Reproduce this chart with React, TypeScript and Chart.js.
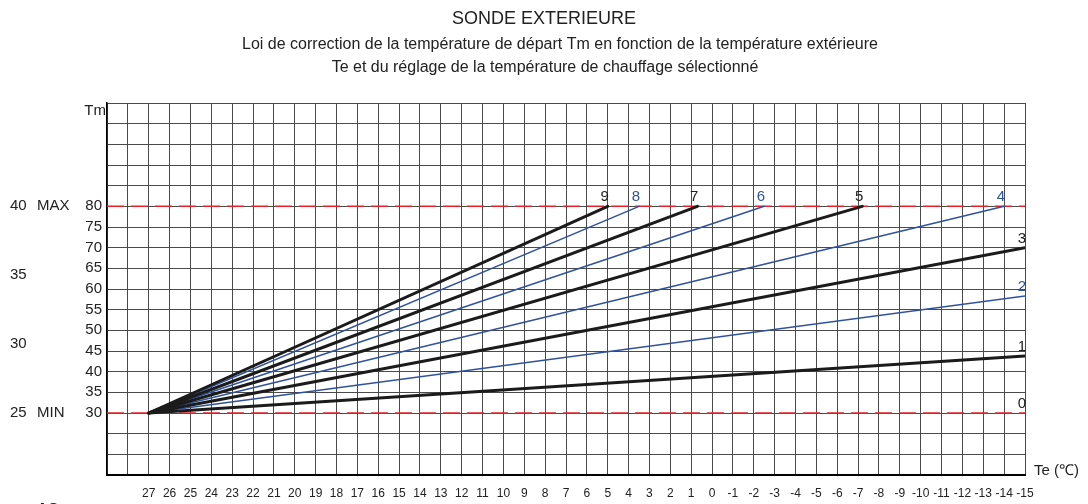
import React, { useEffect, useRef } from 'react';
import { Chart, registerables } from 'chart.js';

Chart.register(...registerables);

const FONT = "'Liberation Sans', Arial, Helvetica, sans-serif";

const TITLE = 'SONDE EXTERIEURE';
const SUBTITLE_LINES = [
  'Loi de correction de la température de départ Tm en fonction de la température extérieure',
  'Te et du réglage de la température de chauffage sélectionné',
];

// Axis ranges / tick labels
const TE_MIN = -15;
const TE_MAX = 29;
const TE_FIRST_LABEL = 27;
const TM_MIN = 15;
const TM_MAX = 105;
const TM_LABEL_LOW = 30;
const TM_LABEL_HIGH = 80;

// Curves: all start at (27, 30)
const curveNames = ['0', '1', '2', '3', '4', '5', '6', '7', '8', '9'];
const curveStartTe = 27;
const curveStartTm = 30;
const curveEndTe = [-15, -15, -15, -15, -14, -7.2, -2.5, 0.7, 3.5, 5];
const curveEndTm = [30, 43.8, 58.3, 70, 80, 80, 80, 80, 80, 80];
const curveKinds = ['none', 'black', 'blue', 'black', 'blue', 'black', 'blue', 'black', 'blue', 'black'];

// Red dashed limits (MIN / MAX)
const limitTm = [30, 80];

// Outer scale on the left (room temperature setting)
const outerValues = [25, 30, 35, 40];
const outerWords = ['MIN', '', '', 'MAX'];
const outerLowTm = 30;
const outerHighTm = 80;

const BLACK = '#1b1b1b';
const BLUE = '#2f52a0';
const RED = '#e8202a';
const TEXT = '#222222';

const overlayPlugin = {
  id: 'overlay',
  afterDraw(chart: any) {
    const ctx = chart.ctx as CanvasRenderingContext2D;
    const xs = chart.scales.x;
    const ys = chart.scales.y;
    ctx.save();
    ctx.fillStyle = TEXT;
    ctx.textAlign = 'center';
    ctx.textBaseline = 'middle';
    ctx.font = `18px ${FONT}`;
    ctx.fillText(TITLE, 544, 19);
    ctx.font = `16px ${FONT}`;
    ctx.fillText(SUBTITLE_LINES[0], 560, 45);
    ctx.fillText(SUBTITLE_LINES[1], 545, 68);

    // Axis names
    ctx.font = `15px ${FONT}`;
    ctx.textAlign = 'right';
    ctx.fillText('Tm', xs.left - 1, 111);
    ctx.textAlign = 'left';
    ctx.fillText('Te (\u2103)', xs.right + 9, ys.bottom - 4);

    // Outer labels
    const lo = outerValues[0];
    const hi = outerValues[outerValues.length - 1];
    outerValues.forEach((v, i) => {
      const tm = outerLowTm + ((v - lo) * (outerHighTm - outerLowTm)) / (hi - lo);
      const py = ys.getPixelForValue(tm);
      ctx.textAlign = 'left';
      ctx.fillText(String(v), 10, py);
      if (outerWords[i]) ctx.fillText(outerWords[i], 37, py);
    });

    // Curve labels
    curveNames.forEach((name, i) => {
      const px = xs.getPixelForValue(curveEndTe[i]);
      const py = ys.getPixelForValue(curveEndTm[i]);
      ctx.fillStyle = curveKinds[i] === 'blue' ? BLUE : TEXT;
      ctx.textAlign = 'right';
      ctx.textBaseline = 'alphabetic';
      ctx.fillText(name, px + 1, py - 5);
    });

    // cut-off text at the bottom-left corner
    ctx.fillStyle = TEXT;
    ctx.textAlign = 'left';
    ctx.textBaseline = 'top';
    ctx.font = `bold 15px ${FONT}`;
    ctx.fillText('AC', 37, 501);
    ctx.restore();
  },
};

export default function App() {
  const ref = useRef<HTMLCanvasElement>(null);

  useEffect(() => {
    if (!ref.current) return;
    document.body.style.margin = '0';

    const datasets: any[] = [];
    limitTm.forEach((tm) => {
      datasets.push({
        data: [
          { x: TE_MAX, y: tm },
          { x: TE_MIN, y: tm },
        ],
        borderColor: RED,
        borderWidth: 1.5,
        borderDash: [17, 7],
        pointRadius: 0,
        order: 100,
      });
    });
    curveNames.forEach((_, i) => {
      if (curveKinds[i] === 'none') return;
      const black = curveKinds[i] === 'black';
      datasets.push({
        data: [
          { x: curveStartTe, y: curveStartTm },
          { x: curveEndTe[i], y: curveEndTm[i] },
        ],
        borderColor: black ? BLACK : BLUE,
        borderWidth: black ? 3 : 1.5,
        pointRadius: 0,
        borderCapStyle: 'round',
        order: black ? 1 : 2,
      });
    });

    const chart = new Chart(ref.current, {
      type: 'line',
      data: { datasets },
      plugins: [overlayPlugin],
      options: {
        animation: false,
        responsive: false,
        devicePixelRatio: 1,
        layout: { padding: { top: 103, right: 63, left: 0, bottom: 0 } },
        plugins: { legend: { display: false }, tooltip: { enabled: false }, title: { display: false } },
        scales: {
          x: {
            type: 'linear',
            reverse: true,
            min: TE_MIN,
            max: TE_MAX,
            afterFit: (s: any) => {
              s.height = 29;
            },
            ticks: {
              stepSize: 1,
              autoSkip: false,
              maxRotation: 0,
              minRotation: 0,
              padding: 11,
              color: TEXT,
              font: { family: FONT, size: 12 },
              callback: (v: any) => (Number(v) <= TE_FIRST_LABEL ? String(v) : ''),
            },
            grid: { color: '#4a4a4a', lineWidth: 1, drawTicks: false },
            border: { display: true, color: '#000', width: 2 },
          },
          y: {
            type: 'linear',
            min: TM_MIN,
            max: TM_MAX,
            afterFit: (s: any) => {
              s.width = 107;
            },
            ticks: {
              stepSize: 5,
              autoSkip: false,
              padding: 5,
              color: TEXT,
              font: { family: FONT, size: 15 },
              callback: (v: any) =>
                Number(v) >= TM_LABEL_LOW && Number(v) <= TM_LABEL_HIGH ? String(v) : '',
            },
            grid: { color: '#4a4a4a', lineWidth: 1, drawTicks: false },
            border: { display: true, color: '#000', width: 1.5 },
          },
        },
      },
    });
    return () => chart.destroy();
  }, []);

  return (
    <div style={{ position: 'absolute', left: 0, top: 0, width: 1088, height: 504 }}>
      <canvas ref={ref} width={1088} height={504} style={{ width: 1088, height: 504 }} />
    </div>
  );
}
